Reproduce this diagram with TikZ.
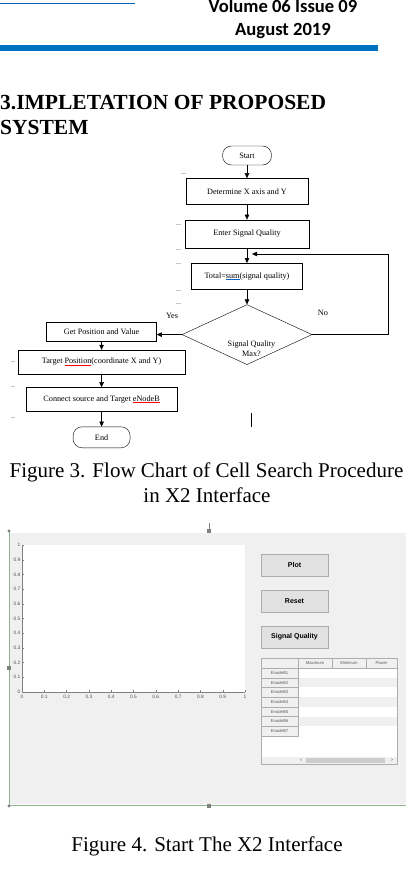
\documentclass[tikz,border=0pt]{standalone}
\usepackage{fontspec}
\setmainfont{Liberation Serif}
\newfontfamily\headfont{Carlito}
\newfontfamily\guifont{Liberation Sans}
\usetikzlibrary{arrows.meta,positioning,shapes.geometric}
\definecolor{barblue}{HTML}{0070C0}
\definecolor{linkblue}{HTML}{0563C1}
\definecolor{panelbg}{HTML}{F0F0F0}
\definecolor{btnbg}{HTML}{E1E1E1}
\definecolor{btnline}{HTML}{ADADAD}
\definecolor{edgegreen}{HTML}{8FB58F}
\definecolor{thumbgray}{HTML}{CDCDCD}
\newcommand\flowfont{\fontsize{8.2}{10}\selectfont}
\newcommand\linkul[1]{{\color{linkblue}\underline{\color{black}#1}}}
\newcommand\spellul[1]{{\color{red}\underline{\color{black}#1}}}

\begin{document}
\begin{tikzpicture}[x=1pt,y=-1pt,node distance=13pt,
  flowbox/.style={draw,thin,inner sep=0pt,font=\flowfont,minimum height=26pt},
  terminal/.style={draw,thin,rounded corners=9pt,inner sep=0pt,font=\flowfont,
                   minimum height=19pt},
  decision/.style={draw,thin,diamond,minimum width=130pt,minimum height=60pt,inner sep=0pt},
  flowarrow/.style={thin,-{Triangle[length=5pt,width=4.5pt]}},
  guibtn/.style={draw=btnline,fill=btnbg,minimum width=67pt,minimum height=22pt,
                 inner sep=0pt,font=\guifont\bfseries\fontsize{7}{8}\selectfont},
  ticklab/.style={inner sep=0.5pt,text=black!70,font=\guifont\fontsize{4.8}{5}\selectfont},
  cellab/.style={inner sep=0pt,text=black!65,font=\guifont\fontsize{4.2}{5}\selectfont}]
  \useasboundingbox (0,0) rectangle (406,872);

  % page header
  \draw[linkblue,line width=0.8pt] (0,3) -- (135,3);
  \node[anchor=base,font=\headfont\bfseries\fontsize{18.6}{20}\selectfont] (vol) at (283,12.5) {Volume 06 Issue 09};
  \node[anchor=base,font=\headfont\bfseries\fontsize{18.6}{20}\selectfont] (month) at (283,35.5) {August 2019};
  \fill[barblue] (0,45) rectangle (378,51);
  \node[anchor=base west,inner sep=0pt,font=\bfseries\fontsize{21.5}{24}\selectfont] (head1) at (0,110) {3.IMPLETATION OF PROPOSED};
  \node[anchor=base west,inner sep=0pt,font=\bfseries\fontsize{21.5}{24}\selectfont] (head2) at (0,135) {SYSTEM};

  % flow chart
  \node[terminal,minimum width=49pt] (start) at (247,155.5) {Start};
  \node[flowbox,minimum width=122pt,below=of start] (axis) {Determine X axis and Y};
  \node[flowbox,minimum width=124pt,minimum height=28pt,below=15pt of axis] (enter) {Enter Signal Quality};
  \node[flowbox,minimum width=111pt,below=15pt of enter] (total) {Total=\linkul{sum}(signal quality)};
  \node[decision,below=15pt of total] (dec) {};
  \node[font=\flowfont,align=center,inner sep=0pt] (decText) at ([xshift=4.5pt,yshift=-14pt]dec.center) {Signal Quality\\Max?};
  \node[flowbox,minimum width=110pt,minimum height=19pt,left=25pt of dec,yshift=2.5pt] (getpos) {Get Position and Value};
  \node[flowbox,minimum width=167pt,minimum height=24pt,below=8pt of getpos] (target) {Target \spellul{Position}(coordinate X and Y)};
  \node[flowbox,minimum width=151pt,minimum height=24pt,below=13pt of target] (connect) {Connect source and Target \spellul{eNodeB}};
  \node[terminal,minimum width=57pt,minimum height=21pt,below=15pt of connect] (finish) {End};
  \node[font=\flowfont] (yes) at (172,316) {Yes};
  \node[font=\flowfont] (no) at (323,313) {No};
  \coordinate (loopcorner) at (388,254);
  \coordinate (merge) at (252,254);

  \draw[flowarrow] (start) -- (axis);
  \draw[flowarrow] (axis) -- (enter);
  \draw[flowarrow] (enter) -- (total);
  \draw[flowarrow] (total) -- (dec);
  \draw[flowarrow] (dec.west) -- (dec.west -| getpos.east);
  \draw[flowarrow] (getpos) -- (target);
  \draw[flowarrow] (target) -- (connect);
  \draw[flowarrow] (connect) -- (finish);
  \draw[flowarrow] (dec.east) -| (loopcorner) -- (merge);
  \draw[thin] (251,413) -- (251,427);
  % faint indent marks
  \draw[gray!45] (181,173) -- (186,173);
  \foreach \yy in {224,249,263,290,303}
    \draw[gray!45] (176,\yy) -- (181,\yy);
  \foreach \yy in {361,386,417}
    \draw[gray!45] (11,\yy) -- (15,\yy);

  % captions
  \node[anchor=base,inner sep=0pt,font=\fontsize{21}{24}\selectfont] (cap3a) at (206.5,477) {Figure 3. Flow Chart of Cell Search Procedure};
  \node[anchor=base,inner sep=0pt,font=\fontsize{21}{24}\selectfont] (cap3b) at (207,502) {in X2 Interface};
  \node[anchor=base,inner sep=0pt,font=\fontsize{21}{24}\selectfont] (cap4) at (207,851) {Figure 4. Start The X2 Interface};

  % interface window
  \fill[panelbg] (10,533) rectangle (406,804);
  \draw[edgegreen,line width=1pt] (9,531) -- (9,805) -- (406,805);
  \draw[gray] (209,523) -- (209,529);
  \fill[gray] (9,531) circle[radius=1.7pt];
  \fill[gray] (9,806) circle[radius=1.7pt];
  \fill[gray] (207.3,529.3) rectangle (210.7,532.7);
  \fill[gray] (7.3,666.3) rectangle (10.7,669.7);
  \fill[gray] (207.3,804.3) rectangle (210.7,807.7);

  % axes
  \fill[white] (22,545) rectangle (245,692);
  \draw[gray] (22,545) -- (22,692) -- (245,692);
  \foreach \k/\lab in {0/0,1/0.1,2/0.2,3/0.3,4/0.4,5/0.5,6/0.6,7/0.7,8/0.8,9/0.9,10/1} {
    \draw[gray] (22,692-14.7*\k) -- (24,692-14.7*\k);
    \draw[gray] (22+22.3*\k,692) -- (22+22.3*\k,690);
    \node[ticklab,anchor=east] at (21,692-14.7*\k) {\lab};
    \node[ticklab,anchor=north] at (22+22.3*\k,694) {\lab};
  }

  % buttons
  \node[guibtn] (plotbtn) at (294.5,565) {Plot};
  \node[guibtn,below=14pt of plotbtn] (resetbtn) {Reset};
  \node[guibtn,below=13pt of resetbtn] (qualbtn) {Signal Quality};

  % table
  \draw[btnline,fill=white] (261,658) rectangle (397,764);
  \draw[btnline,fill=panelbg] (261,658) rectangle (397,668);
  \foreach \xx in {298,332,366}
    \draw[btnline] (\xx,658) -- (\xx,668);
  \node[cellab] (colmax) at (315,663) {Maximum};
  \node[cellab] (colmin) at (349,663) {Minimum};
  \node[cellab] (colpow) at (381.5,663) {Power};
  \foreach \r in {1,...,7} {
    \pgfmathsetmacro\rtop{668+9.7*(\r-1)}
    \ifodd\r\else
      \fill[panelbg] (298.5,\rtop) rectangle (396.5,\rtop+9.7);
    \fi
    \draw[btnline,fill=panelbg] (261,\rtop) rectangle (298,\rtop+9.7);
    \node[cellab] at (279.5,\rtop+4.85) {EnodeB\r};
  }
  \fill[panelbg] (261.5,757) rectangle (396.5,763.5);
  \fill[thumbgray] (306,757.8) rectangle (385,762.8);
  \node[cellab] (scrollleft) at (301,760.3) {<};
  \node[cellab] (scrollright) at (392,760.3) {>};
\end{tikzpicture}
\end{document}
